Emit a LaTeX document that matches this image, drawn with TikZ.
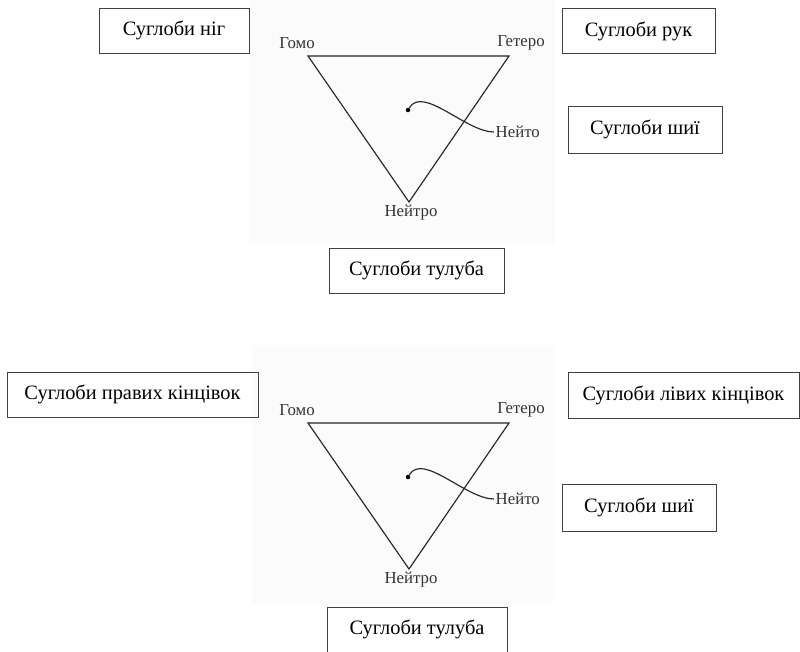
\documentclass[tikz,border=0pt]{standalone}
\usepackage{fontspec}
\setmainfont{Liberation Serif}
\usetikzlibrary{positioning}

\begin{document}
\begin{tikzpicture}[x=1pt, y=-1pt, every node/.style={font=\fontsize{20.4}{23}\selectfont},
    box/.style={rectangle, draw=black!75, line width=0.9pt, inner sep=0pt, minimum height=45pt},
    lbl/.style={font=\fontsize{16.8}{18}\selectfont, text=black!80, inner sep=1.5pt},
    tri/.style={draw=black!85, line width=1.15pt}]
    \useasboundingbox (0,0) rectangle (800,651);
    \fill[black!1.5] (250,0) rectangle (555,243);
    \fill[black!1.5] (252,345) rectangle (553,605);
    % upper scheme
    \node[box, minimum width=150pt] (legs) at (174,30.5) {Суглоби ніг};
    \node[box, minimum width=153pt] (arms) at (638.5,31) {Суглоби рук};
    \node[box, minimum width=154pt, minimum height=47pt] (necka) at (645,129.5) {Суглоби шиї};
    \node[box, minimum width=175pt] (torsoa) at (416.5,270.5) {Суглоби тулуба};
    % lower scheme
    \node[box, minimum width=251pt] (rlimbs) at (132.5,394.5) {Суглоби правих кінцівок};
    \node[box, minimum width=231pt, minimum height=46pt] (llimbs) at (683.5,395) {Суглоби лівих кінцівок};
    \node[box, minimum width=154pt, minimum height=47pt] (neckb) at (639,507.5) {Суглоби шиї};
    \node[box, minimum width=180pt] (torsob) at (417,629.5) {Суглоби тулуба};
    % triangles
    \foreach \dy/\t in {0/a, 367/b} {
        \coordinate (homo\t) at (308,56+\dy);
        \coordinate (hetero\t) at (509,56+\dy);
        \coordinate (neutro\t) at (409,202+\dy);
        \draw[tri] (homo\t) -- (hetero\t) -- (neutro\t) -- cycle;
        \node[lbl] (homolbl\t) at (297,43+\dy) {Гомо};
        \node[lbl] (heterolbl\t) at (521,43+\dy) {Гетеро};
        \node[lbl] (neutrolbl\t) at (411,213+\dy) {Нейтро};
        \node[circle, fill=black, inner sep=0pt, minimum size=4.5pt] (dot\t) at (408,110+\dy) {};
        \node[lbl, anchor=west] (neito\t) at (494,132+\dy) {Нейто};
        \draw[tri] (dot\t) .. controls +(15,-25) and +(-28,0) .. (neito\t.west);
    }
\end{tikzpicture}
\end{document}
